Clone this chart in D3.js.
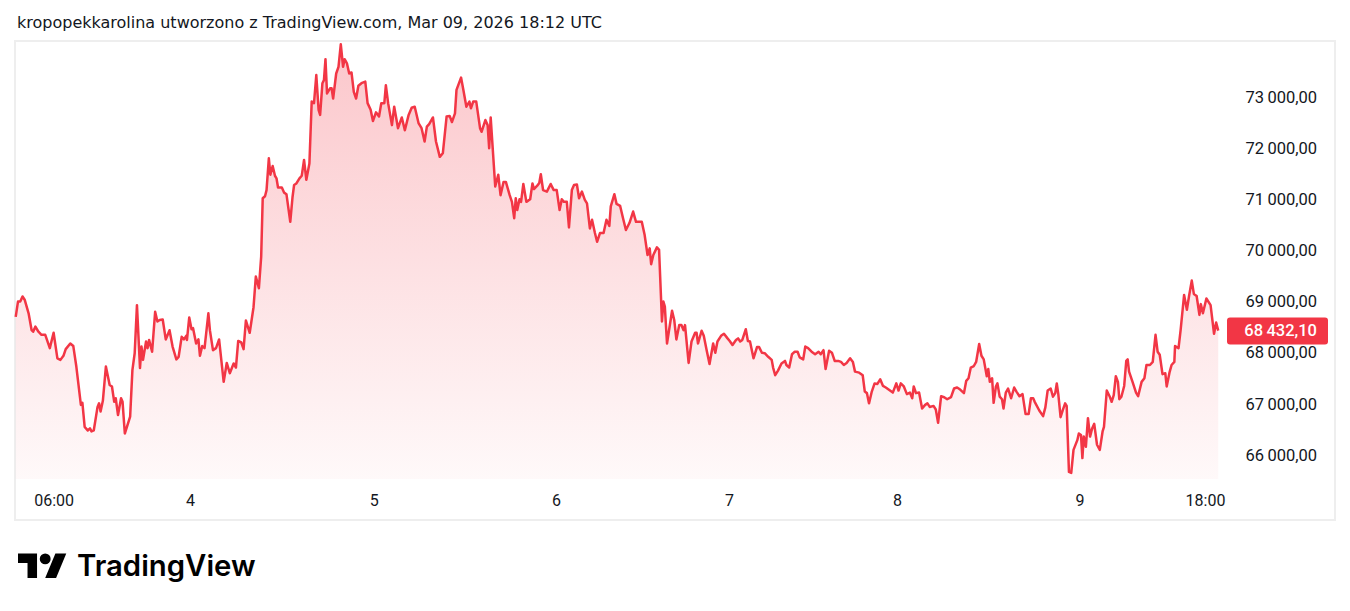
<!doctype html>
<html lang="pl">
<head>
  <meta charset="UTF-8">
  <title>BTC</title>
  <script src="https://cdn.jsdelivr.net/npm/d3@7"></script>
  <style>
    html, body { margin: 0; padding: 0; background: #fff; }
    svg text { font-family: Roboto, "Noto Sans", sans-serif; fill: #131722; }
  </style>
</head>
<body>
<div class="canvas"></div>
<script>
  // hour of the day (UTC) and price, one pair of arrays per day
  const mar3Hours = [1.0,1.3,1.6,1.9,2.2,2.7,3.1,3.3,3.6,4.0,4.4,4.9,5.5,6.0,6.5,6.9,7.3,7.6,8.2,8.6,9.0,9.6,9.8,10.1,10.5,10.8,11.0,11.3,11.8,12.0,12.2,12.5,12.9,13.4,13.7,14.0,14.2,14.5,14.9,15.1,15.4,16.1,16.4,16.7,17.0,17.4,17.6,17.8,18.2,18.4,18.6,19.0,19.4,19.7,20.0,20.4,20.8,21.3,21.7,22.2,22.5,22.9,23.2,23.5,23.6,23.9];
  const mar3Prices = [68700,69000,69000,69100,69030,68770,68440,68410,68510,68410,68350,68350,68090,68390,67890,67860,67940,68070,68180,68130,67730,66980,67020,66550,66480,66520,66460,66480,66940,67010,66850,67060,67730,67370,67340,67040,67110,66780,67110,67040,66420,66750,67660,67990,68930,67700,68120,67860,68220,68090,68250,68020,68800,68610,68640,68650,68260,68440,68120,67870,67920,68310,68260,68330,68250,68690];

  const mar4Hours = [0.2,0.4,0.8,1.1,1.3,1.6,1.9,2.4,2.6,3.0,3.4,3.8,4.4,4.8,5.2,5.7,6.0,6.3,6.7,7.0,7.3,7.8,8.3,8.6,9.0,9.3,9.5,9.8,10.0,10.3,10.5,10.8,11.1,11.3,11.5,12.0,12.3,12.6,13.1,13.4,13.6,13.9,14.3,14.6,14.9,15.2,15.6,15.9,16.2,16.5,16.8,17.0,17.3,17.5,17.7,17.9,18.3,18.5,18.7,19.1,19.4,19.7,20.0,20.2,20.5,20.8,21.1,21.4,21.7,22.0,22.4,22.9,23.2,23.6,23.9];
  const mar4Prices = [68460,68480,68180,68260,67940,68130,68090,68770,68440,68050,68090,68260,67430,67800,67600,67790,67710,68230,68200,68070,68630,68390,68890,69490,69260,69880,71020,71060,71180,71800,71480,71650,71460,71410,71230,71230,71130,71100,70560,71050,71280,71310,71410,71460,71770,71380,71700,72910,72880,73430,72750,72650,73270,73330,73740,73070,73170,73170,72970,73460,73590,74030,73590,73740,73660,73460,73480,73100,72970,73220,73270,73300,72880,72750,72530];

  const mar5Hours = [0.3,0.7,1.0,1.4,1.6,1.9,2.4,2.7,3.2,3.7,4.1,4.6,5.0,5.4,5.9,6.3,6.7,7.0,7.3,7.8,8.2,8.7,9.1,9.6,10.0,10.3,10.7,10.9,11.5,11.8,12.2,12.6,12.8,13.1,13.5,14.0,14.2,14.7,15.0,15.2,15.4,16.0,16.4,16.7,17.1,17.4,17.9,18.2,18.5,18.7,18.9,19.2,19.4,19.7,20.1,20.6,20.9,21.1,21.5,21.8,22.0,22.3,22.8,23.3,23.7];
  const mar5Prices = [72700,72620,72880,72880,73230,72880,72450,72810,72390,72600,72350,72650,72790,72810,72490,72390,72130,72420,72470,72600,72130,71830,71900,72620,72630,72510,72680,73140,73380,73140,72810,72910,72780,72910,72910,72390,72320,72550,72450,72000,72600,71250,71480,71080,71340,71340,71080,70950,70630,71020,70790,71000,70950,71300,70950,71000,71310,71200,71260,71320,71490,71180,71150,71300,71180];

  const mar6Hours = [0.1,0.5,0.8,1.1,1.5,1.8,2.2,2.5,2.9,3.2,3.6,4.0,4.3,4.7,5.0,5.4,5.7,6.1,6.6,7.0,7.4,7.6,8.1,8.4,8.9,9.3,9.7,10.2,10.7,11.1,11.9,12.3,12.7,13.0,13.2,13.5,14.0,14.3,14.7,14.9,15.1,15.4,16.1,16.4,16.7,17.1,17.4,17.7,17.9,18.4,18.8,19.3,19.5,19.7,20.2,20.5,20.9,21.3,21.8,22.1,22.4,22.9,23.3,23.8];
  const mar6Prices = [71180,70790,71000,70950,70950,70450,71180,71280,71290,71020,71150,70990,70920,70430,70600,70340,70170,70340,70340,70600,70480,70860,71100,70910,70870,70630,70400,70540,70760,70560,70560,70300,69910,70040,69730,69910,70060,70010,68610,69000,68900,68180,68820,68640,68260,68540,68540,68440,68540,67800,68220,68390,68390,68180,68430,68330,68050,67780,68180,68000,68220,68330,68370,68280];

  const mar7Hours = [0.1,0.5,1.0,1.3,1.6,1.9,2.4,2.7,3.0,3.5,4.0,4.3,4.7,5.1,5.6,6.1,6.3,6.6,7.0,7.5,8.0,8.2,8.6,9.0,9.4,9.8,10.1,10.6,10.9,11.3,11.8,12.3,12.8,13.1,13.5,13.8,14.3,14.7,15.1,15.6,16.0,16.4,16.8,17.3,17.7,18.0,18.6,19.1,19.4,19.7,20.0,20.4,20.8,21.2,21.6,22.0,22.4,22.9,23.4,23.9];
  const mar7Prices = [68230,68150,68250,68280,68220,68250,68460,68230,68220,67890,68110,68110,68000,67990,67920,67860,67710,67560,67650,67790,67840,67760,67710,67970,68020,68020,67910,67870,68120,68090,68020,67970,68020,67970,68050,67680,68040,68000,67840,67840,67820,67760,67800,67890,67820,67630,67610,67560,67240,67210,67010,67240,67400,67390,67480,67350,67320,67270,67220,67400];

  const mar8Hours = [0.2,0.5,0.9,1.3,1.7,2.0,2.2,2.5,2.9,3.3,3.7,4.0,4.3,4.8,5.1,5.4,5.8,6.2,6.6,7.1,7.5,7.9,8.3,8.8,9.1,9.4,9.7,10.1,10.4,10.8,11.1,11.4,11.8,12.0,12.2,12.5,12.7,13.0,13.2,13.5,13.8,14.0,14.3,14.6,15.0,15.4,15.7,16.1,16.5,16.9,17.3,17.6,17.9,18.1,18.7,19.2,19.5,19.8,20.2,20.5,20.8,21.0,21.2,21.5,21.8,22.1,22.3,22.6,22.9,23.2,23.7,23.9];
  const mar8Prices = [67260,67400,67340,67190,67220,67110,67340,67210,67220,66910,66980,67010,66940,66960,66890,66630,67150,67130,67090,67130,67300,67320,67280,67210,67450,67500,67710,67740,67820,68170,67940,67870,67540,67680,67430,67500,67020,67340,67400,67140,67090,66910,67220,67300,67110,67320,67240,67150,67190,66800,66800,67110,67110,67040,66870,66760,66930,67260,67300,67140,67210,67400,67190,66740,66880,67010,66960,65670,65650,66100,66290,66420];

  const mar9Hours = [0.2,0.4,0.6,0.9,1.2,1.5,1.8,2.1,2.5,2.9,3.3,3.5,3.9,4.3,4.6,4.9,5.2,5.5,5.7,6.0,6.4,6.7,6.9,7.1,7.6,8.1,8.4,8.9,9.3,9.6,10.1,10.5,10.9,11.2,11.5,11.9,12.3,12.5,12.9,13.2,13.6,13.7,14.2,14.5,15.0,15.4,15.7,16.1,16.4,16.8,17.2,17.4,17.7,18.2,18.8,19.3,19.6,19.9];
  const mar9Prices = [66390,65940,66360,66160,66720,66360,66520,66610,66200,66100,66460,66550,67260,67150,67040,67170,67540,67430,67090,67140,67350,67840,67870,67630,67430,67220,67150,67430,67500,67760,67760,67820,68350,68020,67960,67580,67600,67340,67610,67760,67820,68130,68090,68440,69130,68840,69100,69410,69150,69110,68740,68950,68770,69060,68930,68370,68590,68432.10];

  // time axis: hours since Mar 03 00:00
  const timeTicks = [6, 24, 48, 72, 96, 120, 144, 162];
  const timeLabels = ['06:00', '4', '5', '6', '7', '8', '9', '18:00'];
  const priceTicks = [66000, 67000, 68000, 69000, 70000, 71000, 72000, 73000];
  const lastPrice = 68432.10;
  const headerText = 'kropopekkarolina utworzono z TradingView.com, Mar 09, 2026 18:12 UTC';

  const hoursByDay = [mar3Hours, mar4Hours, mar5Hours, mar6Hours, mar7Hours, mar8Hours, mar9Hours];
  const pricesByDay = [mar3Prices, mar4Prices, mar5Prices, mar6Prices, mar7Prices, mar8Prices, mar9Prices];
  const data = [];
  hoursByDay.forEach((hs, i) => hs.forEach((h, j) => data.push({ t: i * 24 + h, p: pricesByDay[i][j] })));

  const width = 1350, height = 611;
  const red = '#f23645';

  const svg = d3.select('.canvas').append('svg')
    .attr('width', width)
    .attr('height', height);

  svg.append('text')
    .attr('x', 17).attr('y', 28)
    .style('font-family', '"DejaVu Sans", sans-serif')
    .style('font-size', '16px')
    .text(headerText);

  // chart frame
  svg.append('rect')
    .attr('x', 15).attr('y', 41)
    .attr('width', 1320).attr('height', 479)
    .attr('fill', 'none')
    .attr('stroke', '#eeeeee')
    .attr('stroke-width', 2);

  // bars are not evenly spaced in time on the chart, so the scale is polylinear
  const x = d3.scaleLinear()
    .domain(timeTicks)
    .range([53.6, 190, 373.7, 556, 729, 897, 1079.6, 1205]);

  const y = d3.scaleLinear()
    .domain([66000, 73000])
    .range([455, 97]);

  const plotBottom = 479;

  const defs = svg.append('defs');
  const grad = defs.append('linearGradient')
    .attr('id', 'fillGrad')
    .attr('gradientUnits', 'userSpaceOnUse')
    .attr('x1', 0).attr('x2', 0)
    .attr('y1', y(d3.max(data, d => d.p))).attr('y2', plotBottom);
  grad.append('stop').attr('offset', 0).attr('stop-color', red).attr('stop-opacity', 0.28);
  grad.append('stop').attr('offset', 1).attr('stop-color', red).attr('stop-opacity', 0.03);

  const area = d3.area()
    .x(d => x(d.t))
    .y0(plotBottom)
    .y1(d => y(d.p));

  const line = d3.line()
    .x(d => x(d.t))
    .y(d => y(d.p));

  svg.append('path')
    .datum(data)
    .attr('d', area)
    .attr('fill', 'url(#fillGrad)');

  svg.append('path')
    .datum(data)
    .attr('d', line)
    .attr('fill', 'none')
    .attr('stroke', red)
    .attr('stroke-width', 2.5)
    .attr('stroke-linejoin', 'round');

  // price axis
  const plLocale = d3.formatLocale({ decimal: ',', thousands: '\u2009', grouping: [3], currency: ['', ''] });
  const fmt = plLocale.format(',.2f');

  const yAxisG = svg.append('g')
    .attr('transform', 'translate(1317,0)')
    .call(d3.axisRight(y).tickValues(priceTicks).tickSize(0).tickPadding(0).tickFormat(fmt));
  yAxisG.select('.domain').remove();
  yAxisG.selectAll('text')
    .attr('text-anchor', 'end')
    .style('font-size', '16.5px')
    .attr('fill', '#131722');

  // last price badge
  const ly = y(lastPrice);
  svg.append('rect')
    .attr('x', 1227).attr('y', ly - 13)
    .attr('width', 101).attr('height', 27)
    .attr('rx', 3)
    .attr('fill', red);
  svg.append('text')
    .attr('x', 1317).attr('y', ly)
    .attr('dy', '0.35em')
    .attr('text-anchor', 'end')
    .style('font-size', '16.5px')
    .style('font-weight', 500)
    .style('fill', '#fff')
    .text(fmt(lastPrice));

  // time axis
  const xAxisG = svg.append('g')
    .attr('transform', 'translate(0,495)')
    .call(d3.axisBottom(x).tickValues(timeTicks).tickSize(0).tickPadding(0)
      .tickFormat((d, i) => timeLabels[i]));
  xAxisG.select('.domain').remove();
  xAxisG.selectAll('text')
    .style('font-size', '16px')
    .attr('fill', '#131722');

  // TradingView logo
  const logo = svg.append('g').attr('transform', 'translate(18,548) scale(1.36)');
  logo.append('path').attr('d', 'M14 22H7V11H0V4h14v18z').attr('fill', '#000');
  logo.append('circle').attr('cx', 20).attr('cy', 8).attr('r', 4).attr('fill', '#000');
  logo.append('path').attr('d', 'M28 22h-8l7.5-18h8L28 22z').attr('fill', '#000');
  svg.append('text')
    .attr('x', 77).attr('y', 576)
    .style('font-family', 'Inter, Roboto, sans-serif')
    .style('font-size', '29.3px')
    .style('font-weight', 600)
    .style('fill', '#000')
    .text('TradingView');
</script>
</body>
</html>
